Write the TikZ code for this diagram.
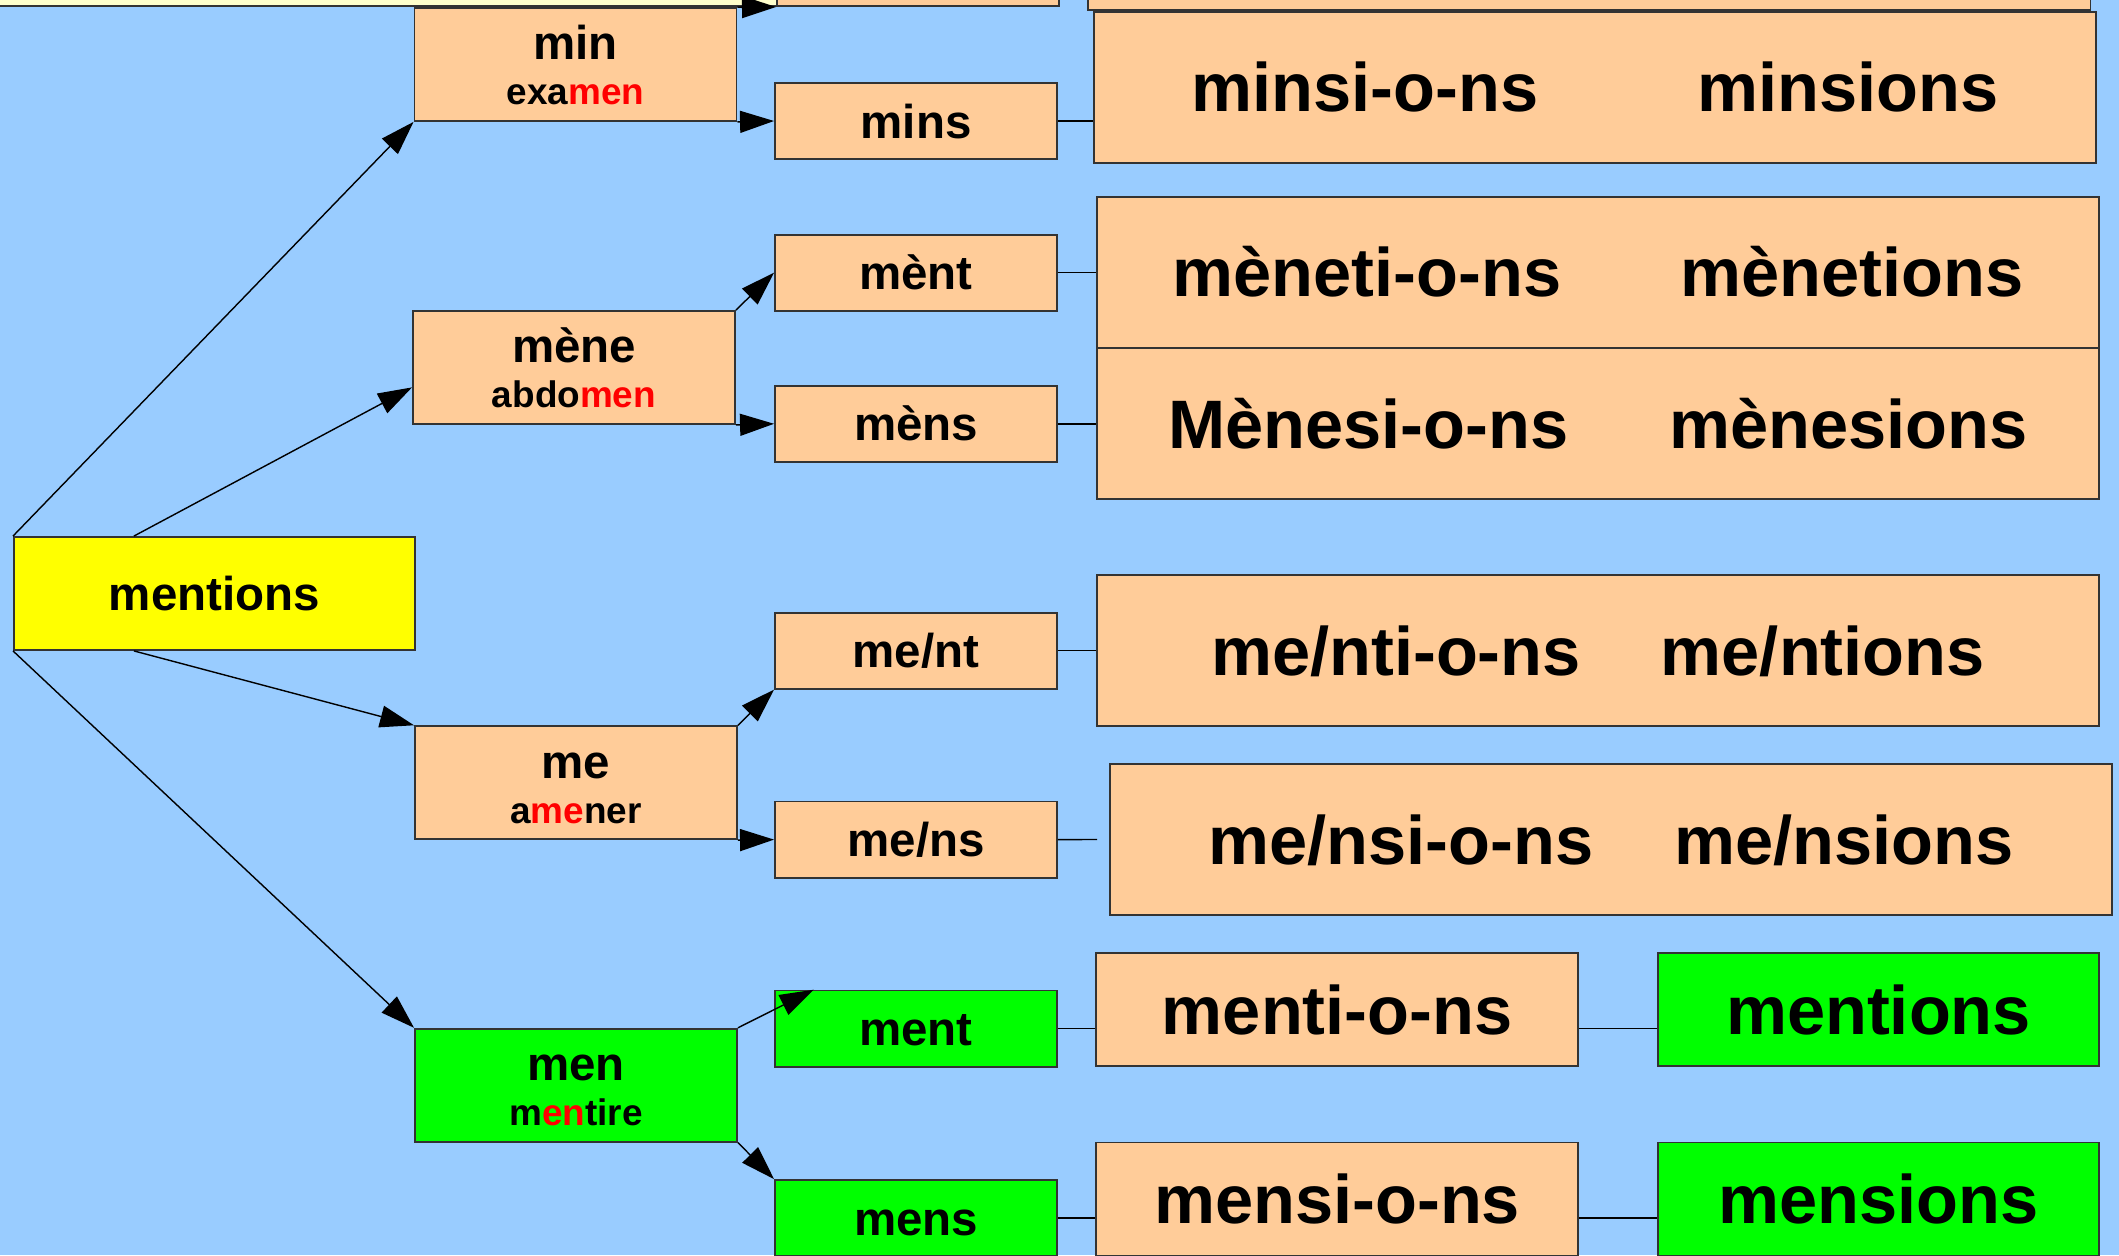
\documentclass[tikz,border=0pt]{standalone}
\usepackage{fontspec}
\setmainfont{Liberation Sans}
\usepackage{xcolor}
\usepackage{tikz}
\usetikzlibrary{arrows.meta, calc}
\definecolor{bgcolor}{RGB}{153, 204, 255}
\definecolor{stemcolor}{RGB}{255, 204, 153}
\definecolor{goodcolor}{RGB}{0, 255, 0}
\definecolor{rootcolor}{RGB}{255, 255, 0}
\definecolor{titlecolor}{RGB}{255, 255, 204}
% two lines of a stem box: the stem, then the word it comes from
\newcommand{\stemlabel}[2]{\rule{0pt}{10.2pt}\smash{#1}\\\fontsize{10.5}{12.8}\selectfont\smash{#2}}

\begin{document}
\begin{tikzpicture}[x=0.01cm, y=-0.01cm,
        box/.style={draw=black!80, line width=0.5pt, inner sep=0pt},
        small/.style={box, minimum width=2.82cm, minimum height=0.76cm, font=\fontsize{13.5}{16}\selectfont\bfseries, text height=9.7pt, text depth=0pt},
        stem/.style={box, fill=stemcolor, minimum width=3.22cm, minimum height=1.13cm, align=center, font=\fontsize{13.5}{12.8}\selectfont\bfseries},
        wide/.style={box, fill=stemcolor, minimum height=1.51cm, font=\fontsize{19.5}{22}\selectfont\bfseries, text height=14pt, text depth=0pt},
        link/.style={line width=0.4pt, black},
        arr/.style={link, -{Triangle[length=0.34cm, width=0.22cm]}}]
        \useasboundingbox (0,0) rectangle (2119,1255);
        \clip (0,0) rectangle (2119,1255);
        \fill[bgcolor] (0,0) rectangle (2119,1255);

        % Boxes cut off at the top edge
        \node[box, fill=titlecolor, minimum width=7.86cm, minimum height=1cm, anchor=south west] (title) at (-10,7) {};
        \node[small, fill=stemcolor, anchor=south west] (topsuffix) at (776,7) {};
        \node[wide, minimum width=10.02cm, anchor=south west] (topwide) at (1087,11) {};

        % Root word
        \node[small, fill=rootcolor, minimum width=4.01cm, minimum height=1.13cm] (root) at (214.5,593.5) {mentions};

        % Stems
        \node[stem] (min) at (575.5,64.5) {\stemlabel{min}{exa\textcolor{red}{men}}};
        \node[stem] (mene) at (574,367.5) {\stemlabel{mène}{abdo\textcolor{red}{men}}};
        \node[stem] (me) at (576,782.7) {\stemlabel{me}{a\textcolor{red}{me}ner}};
        \node[stem, fill=goodcolor] (men) at (576,1085.2) {\stemlabel{men}{m\textcolor{red}{en}tire}};

        % Stem plus ending
        \node[small, fill=stemcolor] (mins) at (916,121) {mins};
        \node[small, fill=stemcolor] (ment1) at (916,272.7) {mènt};
        \node[small, fill=stemcolor] (mens1) at (916,423.8) {mèns};
        \node[small, fill=stemcolor] (ment2) at (916,650.7) {me/nt};
        \node[small, fill=stemcolor] (mens2) at (916,839.6) {me/ns};
        \node[small, fill=goodcolor] (ment3) at (916,1028.6) {ment};
        \node[small, fill=goodcolor] (mens3) at (916,1218) {mens};

        % Built forms
        \node[wide, minimum width=10.02cm] (minsw) at (1595,87.2) {minsi-o-ns\hspace{1.59cm}minsions};
        \node[wide, minimum width=10.02cm] (ment1w) at (1598,272.3) {mèneti-o-ns\hspace{1.19cm}mènetions};
        \node[wide, minimum width=10.02cm] (mens1w) at (1598,423.5) {Mènesi-o-ns\hspace{1.01cm}mènesions};
        \node[wide, minimum width=10.02cm] (ment2w) at (1598,650.5) {me/nti-o-ns\hspace{0.8cm}me/ntions};
        \node[wide, minimum width=10.02cm] (mens2w) at (1611,839.5) {me/nsi-o-ns\hspace{0.81cm}me/nsions};
        \node[wide, minimum width=4.815cm, minimum height=1.13cm] (ment3w) at (1337.2,1009.7) {menti-o-ns};
        \node[wide, fill=goodcolor, minimum width=4.41cm, minimum height=1.13cm] (ment3r) at (1878.5,1009.7) {mentions};
        \node[wide, minimum width=4.815cm, minimum height=1.13cm] (mens3w) at (1337.2,1199) {mensi-o-ns};
        \node[wide, fill=goodcolor, minimum width=4.41cm, minimum height=1.13cm] (mens3r) at (1878.5,1199) {mensions};
        \coordinate (gap) at (1097,839.5);

        % Arrows from the root
        \draw[arr] (root.north west) -- (min.south west);
        \draw[arr] ($(root.north west)!0.3!(root.north east)$) -- (mene.187);
        \draw[arr] ($(root.south west)!0.3!(root.south east)$) -- (me.north west);
        \draw[arr] (root.south west) -- (men.north west);

        % Arrows to the endings
        \draw[arr] (min.north east) -- (topsuffix.south west);
        \draw[arr] (min.south east) -- (mins.west);
        \draw[arr] (mene.north east) -- (ment1.west);
        \draw[arr] (mene.south east) -- (mens1.west);
        \draw[arr] (me.north east) -- (ment2.south west);
        \draw[arr] (me.south east) -- (mens2.west);
        \draw[arr] (men.north east) -- ($(ment3.north west)!0.14!(ment3.north east)$);
        \draw[arr] (men.south east) -- (mens3.north west);

        % Plain links to the forms
        \draw[link] (mins.east) -- (mins.east -| minsw.west);
        \draw[link] (ment1.east) -- (ment1.east -| ment1w.west);
        \draw[link] (mens1.east) -- (mens1.east -| mens1w.west);
        \draw[link] (ment2.east) -- (ment2.east -| ment2w.west);
        \draw[link] (mens2.east) -- (gap);
        \draw[link] (ment3.east) -- (ment3.east -| ment3w.west);
        \draw[link] (ment3.east -| ment3w.east) -- (ment3.east -| ment3r.west);
        \draw[link] (mens3.east) -- (mens3.east -| mens3w.west);
        \draw[link] (mens3.east -| mens3w.east) -- (mens3.east -| mens3r.west);
\end{tikzpicture}
\end{document}
